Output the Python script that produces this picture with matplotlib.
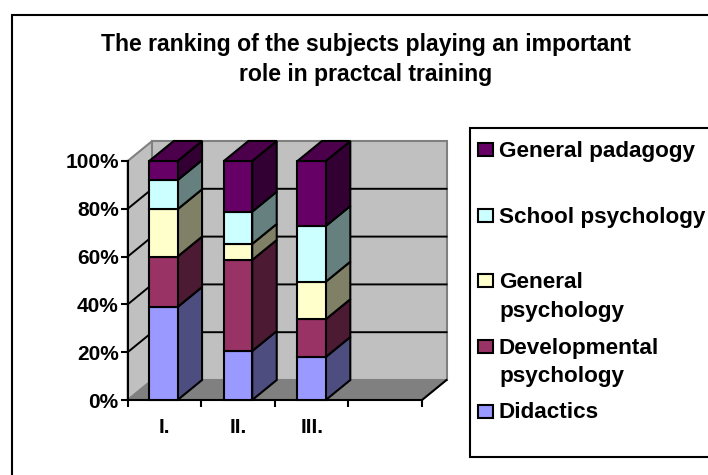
import matplotlib
matplotlib.use("Agg")
import matplotlib.pyplot as plt
from matplotlib.patches import Polygon, Rectangle

categories = ["I.", "II.", "III.", ""]
series_names = ["Didactics", "Developmental\npsychology", "General\npsychology", "School psychology", "General padagogy"]
didactics = [38.9, 20.5, 18.0]
developmental = [21.1, 38.1, 15.8]
general_psych = [19.8, 6.7, 15.7]
school_psych = [12.2, 13.5, 23.3]
general_pedagogy = [8.0, 21.2, 27.2]
y_ticks = [0, 20, 40, 60, 80, 100]
y_labels = ["0%", "20%", "40%", "60%", "80%", "100%"]

front = ["#9999FF", "#993366", "#FFFFCC", "#CCFFFF", "#660066"]
side = ["#4D4D80", "#4D1A33", "#808066", "#668080", "#330033"]
top_color = "#4C004C"

W, H = 708, 475
FONT = "Liberation Sans"
fig = plt.figure(figsize=(W / 100, H / 100), dpi=100, facecolor="white")
px = fig.add_axes([0, 0, 1, 1], zorder=0)
px.set_xlim(0, W); px.set_ylim(H, 0); px.axis("off")

# chart frame (open at the right and bottom, as cropped in the picture)
px.plot([11.5, 11.5], [H, 14.5], color="black", lw=1.5, solid_capstyle="butt")
px.plot([11, W], [14.5, 14.5], color="black", lw=1.5, solid_capstyle="butt")

x0, x1, y0, y1 = 127.7, 422.0, 400.0, 161.0
ax = fig.add_axes([x0 / W, 1 - y0 / H, (x1 - x0) / W, (y0 - y1) / H], zorder=1)
ax.patch.set_alpha(0)
ax.set_xlim(0, 4); ax.set_ylim(0, 100)
dx = 24.5 / ((x1 - x0) / 4)
dy = 20.0 / ((y0 - y1) / 100)

# walls and floor
ax.add_patch(Polygon([(0, 0), (dx, dy), (dx, 100 + dy), (0, 100)], closed=True, fc="#C0C0C0", ec="#808080", lw=1.5, clip_on=False, zorder=1))
ax.add_patch(Polygon([(dx, dy), (4 + dx, dy), (4 + dx, 100 + dy), (dx, 100 + dy)], closed=True, fc="#C0C0C0", ec="#808080", lw=1.5, clip_on=False, zorder=1))
ax.add_patch(Polygon([(0, 0), (4, 0), (4 + dx, dy), (dx, dy)], closed=True, fc="#808080", ec="#808080", lw=1, clip_on=False, zorder=1))
ax.plot([4, 4 + dx], [0, dy], color="black", lw=1.5, clip_on=False, zorder=2)
for v in y_ticks[1:-1]:
    ax.plot([0, dx, 4 + dx], [v, v + dy, v + dy], color="black", lw=1.4, clip_on=False, zorder=2, solid_joinstyle="miter")

# stacked bars
stacks = [didactics, developmental, general_psych, school_psych, general_pedagogy]
bw = 0.385
centers = [0.485, 1.5, 2.5]
for i, c in enumerate(centers):
    left, right = c - bw / 2, c + bw / 2
    b = 0
    for s, vals in enumerate(stacks):
        t = b + vals[i]
        ax.add_patch(Polygon([(right, b), (right + dx, b + dy), (right + dx, t + dy), (right, t)], closed=True,
                             fc=side[s], ec="black", lw=1.5, clip_on=False, zorder=3))
        ax.add_patch(Rectangle((left, b), bw, vals[i], fc=front[s], ec="black", lw=1.5, clip_on=False, zorder=3))
        b = t
    ax.add_patch(Polygon([(left, b), (right, b), (right + dx, b + dy), (left + dx, b + dy)], closed=True,
                         fc=top_color, ec="black", lw=1.5, clip_on=False, zorder=3))

# axes
for sp in ("top", "right"):
    ax.spines[sp].set_visible(False)
for sp in ("left", "bottom"):
    ax.spines[sp].set_linewidth(1.5)
    ax.spines[sp].set_zorder(2.5)
ax.set_yticks(y_ticks)
ax.set_yticklabels(y_labels, fontfamily=FONT, fontweight="bold", fontsize=15)
ax.tick_params(axis="y", length=5, width=1.5, pad=1.5)
ax.set_xticks([0, 1, 2, 3, 4])
ax.set_xticklabels([])
ax.tick_params(axis="x", which="major", length=5, width=1.5)
ax.set_xticks([0.5, 1.5, 2.5, 3.5], minor=True)
ax.set_xticklabels(categories, minor=True, fontfamily=FONT, fontweight="bold", fontsize=15)
ax.tick_params(axis="x", which="minor", length=0, pad=13)

# title
for line, yy in (("The ranking of the subjects playing an important", 45), ("role in practcal training", 75)):
    px.text(366, yy, line, ha="center", va="center", fontfamily=FONT, fontweight="bold", fontsize=16.6)

# legend
px.add_patch(Rectangle((470, 127.5), 240, 329, fc="white", ec="black", lw=1.5, clip_on=False))
entry_y = [411, 346, 280.5, 215, 149.5]
for s in range(4, -1, -1):
    yy = entry_y[s]
    px.add_patch(Rectangle((478, yy - 6.5), 15, 13, fc=front[s], ec="black", lw=1.5))
    px.text(499, yy + 2 + (14.5 if "\n" in series_names[s] else 0), series_names[s], ha="left", va="center",
            fontfamily=FONT, fontweight="bold", fontsize=16.2, linespacing=1.45)

fig.savefig("out.png", dpi=100)
